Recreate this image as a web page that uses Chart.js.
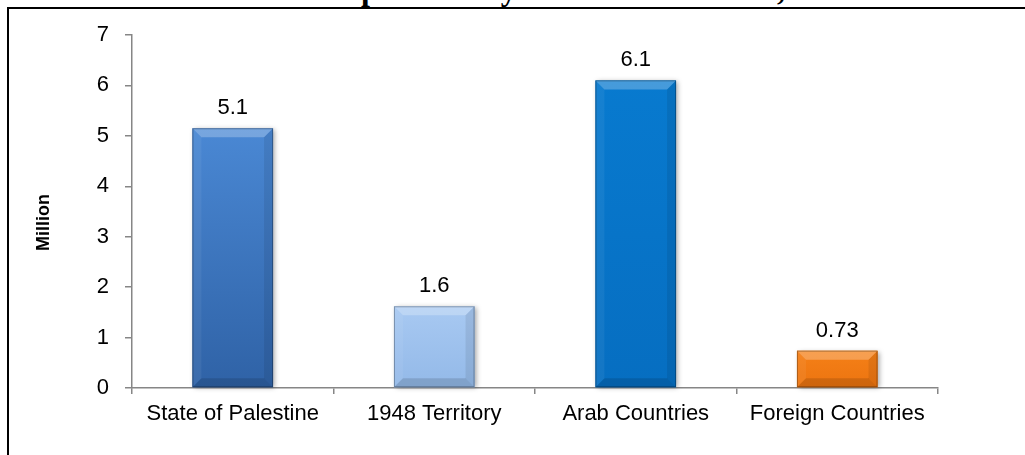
<!DOCTYPE html>
<html>
<head>
<meta charset="utf-8">
<script src="https://cdn.jsdelivr.net/npm/chart.js@4.4.0/dist/chart.umd.min.js"></script>
<style>
  html, body { margin: 0; padding: 0; background: #fff; overflow: hidden; }
  body { width: 1025px; height: 455px; position: relative; }
  #title {
    position: absolute; top: -29px; white-space: nowrap;
    font: bold 32px "Liberation Serif", "Times New Roman", serif; color: #000;
  }
  #frame {
    position: absolute; left: 7px; top: 7px; width: 1200px; height: 700px;
    border: 2px solid #000; box-sizing: border-box;
  }
  #wrap { position: absolute; left: 0; top: 0; width: 1025px; height: 455px; }
</style>
</head>
<body>
<div id="title">Estimated Size of the Palestinian Population by Place of Residence, End of Year 2022</div>
<div id="frame"></div>
<div id="wrap"><canvas id="chart"></canvas></div>
<script>
// chart data
const categories = ['State of Palestine', '1948 Territory', 'Arab Countries', 'Foreign Countries'];
const population = [5.15, 1.62, 6.1, 0.74];
const valueLabels = ['5.1', '1.6', '6.1', '0.73'];
const yTicks = [0, 1, 2, 3, 4, 5, 6, 7];
const yTitle = 'Million';

// top / bottom colours of each bar
const barColors = [
    ['#4a88d4', '#2f62a6'],
    ['#a8c9f2', '#93b9e8'],
    ['#087acf', '#066ec1'],
    ['#f58017', '#ec7410']
];

const FONT = '"Liberation Sans", Arial, sans-serif';

// put the clipped title so "Population" sits where it does in the picture
(function placeTitle() {
    const t = document.getElementById('title');
    const c = document.createElement('canvas').getContext('2d');
    c.font = 'bold 32px "Liberation Serif", "Times New Roman", serif';
    const pre = c.measureText('Estimated Size of the Palestinian Po').width;
    t.style.left = (361 - pre) + 'px';
})();

function barGradient(context) {
    const chart = context.chart;
    const i = context.dataIndex;
    const cols = barColors[i];
    if (!chart.chartArea) return cols[0];
    const y = chart.scales.y;
    const top = y.getPixelForValue(population[i]);
    const bottom = y.getPixelForValue(0);
    const g = chart.ctx.createLinearGradient(0, top, 0, bottom);
    g.addColorStop(0, cols[0]);
    g.addColorStop(1, cols[1]);
    return g;
}

// soft shadow behind each bar
const shadowPlugin = {
    id: 'barShadow',
    beforeDatasetsDraw(chart) {
        const ctx = chart.ctx;
        chart.getDatasetMeta(0).data.forEach((bar, i) => {
            const left = bar.x - bar.width / 2;
            ctx.save();
            ctx.shadowColor = 'rgba(0,0,0,0.35)';
            ctx.shadowBlur = 5;
            ctx.shadowOffsetX = 2;
            ctx.shadowOffsetY = 1;
            ctx.fillStyle = barColors[i][1];
            ctx.fillRect(left, bar.y, bar.width, bar.base - bar.y);
            ctx.restore();
        });
    }
};

// bevel edges + value labels + axis title (sits a bit below centre in the picture)
const bevelPlugin = {
    id: 'bevel',
    afterDatasetsDraw(chart) {
        const ctx = chart.ctx;
        chart.getDatasetMeta(0).data.forEach((bar, i) => {
            const l = bar.x - bar.width / 2, r = bar.x + bar.width / 2;
            const t = bar.y, b = bar.base;
            const e = Math.min(9, (b - t) / 2);
            const poly = (pts, fill) => {
                ctx.beginPath();
                ctx.moveTo(pts[0][0], pts[0][1]);
                pts.slice(1).forEach(p => ctx.lineTo(p[0], p[1]));
                ctx.closePath();
                ctx.fillStyle = fill;
                ctx.fill();
            };
            ctx.save();
            poly([[l, t], [r, t], [r - e, t + e], [l + e, t + e]], 'rgba(255,255,255,0.25)');
            poly([[l, t], [l + e, t + e], [l + e, b - e], [l, b]], 'rgba(255,255,255,0.06)');
            poly([[r, t], [r, b], [r - e, b - e], [r - e, t + e]], 'rgba(0,0,0,0.08)');
            poly([[l, b], [l + e, b - e], [r - e, b - e], [r, b]], 'rgba(0,0,0,0.13)');
            ctx.strokeStyle = 'rgba(0,0,0,0.28)';
            ctx.lineWidth = 1;
            ctx.strokeRect(l + 0.5, t + 0.5, bar.width - 1, b - t - 1);

            ctx.fillStyle = '#000';
            ctx.font = '22px ' + FONT;
            ctx.textAlign = 'center';
            ctx.textBaseline = 'alphabetic';
            ctx.fillText(valueLabels[i], bar.x, t - 14);
            ctx.restore();
        });

        const area = chart.chartArea;
        ctx.save();
        ctx.translate(44, (area.top + area.bottom) / 2 + 11);
        ctx.rotate(-Math.PI / 2);
        ctx.fillStyle = '#000';
        ctx.font = 'bold 18px ' + FONT;
        ctx.textAlign = 'center';
        ctx.textBaseline = 'middle';
        ctx.fillText(yTitle, 0, 0);
        ctx.restore();
    }
};

new Chart(document.getElementById('chart'), {
    type: 'bar',
    data: {
        labels: categories,
        datasets: [{
            data: population,
            backgroundColor: barGradient,
            borderWidth: 0,
            barPercentage: 0.4,
            categoryPercentage: 1.0
        }]
    },
    options: {
        responsive: true,
        maintainAspectRatio: false,
        animation: false,
        devicePixelRatio: 1,
        layout: { padding: { left: 0, right: 87, top: 35, bottom: 0 } },
        plugins: {
            legend: { display: false },
            tooltip: { enabled: false }
        },
        scales: {
            x: {
                grid: { offset: true, drawOnChartArea: false, tickLength: 6, color: '#868686', lineWidth: 1.5 },
                border: { color: '#868686', width: 1.5 },
                ticks: { color: '#000', font: { family: FONT, size: 22 }, padding: 7, maxRotation: 0 },
                afterFit(scale) { scale.height = 67; }
            },
            y: {
                min: 0,
                max: 7,
                afterBuildTicks(scale) { scale.ticks = yTicks.map(v => ({ value: v })); },
                grid: { drawOnChartArea: false, tickLength: 7, color: '#868686', lineWidth: 1.5 },
                border: { color: '#868686', width: 1.5 },
                ticks: { color: '#000', font: { family: FONT, size: 22 }, padding: 16 },
                afterFit(scale) { scale.width = 132; }
            }
        }
    },
    plugins: [shadowPlugin, bevelPlugin]
});
</script>
</body>
</html>
